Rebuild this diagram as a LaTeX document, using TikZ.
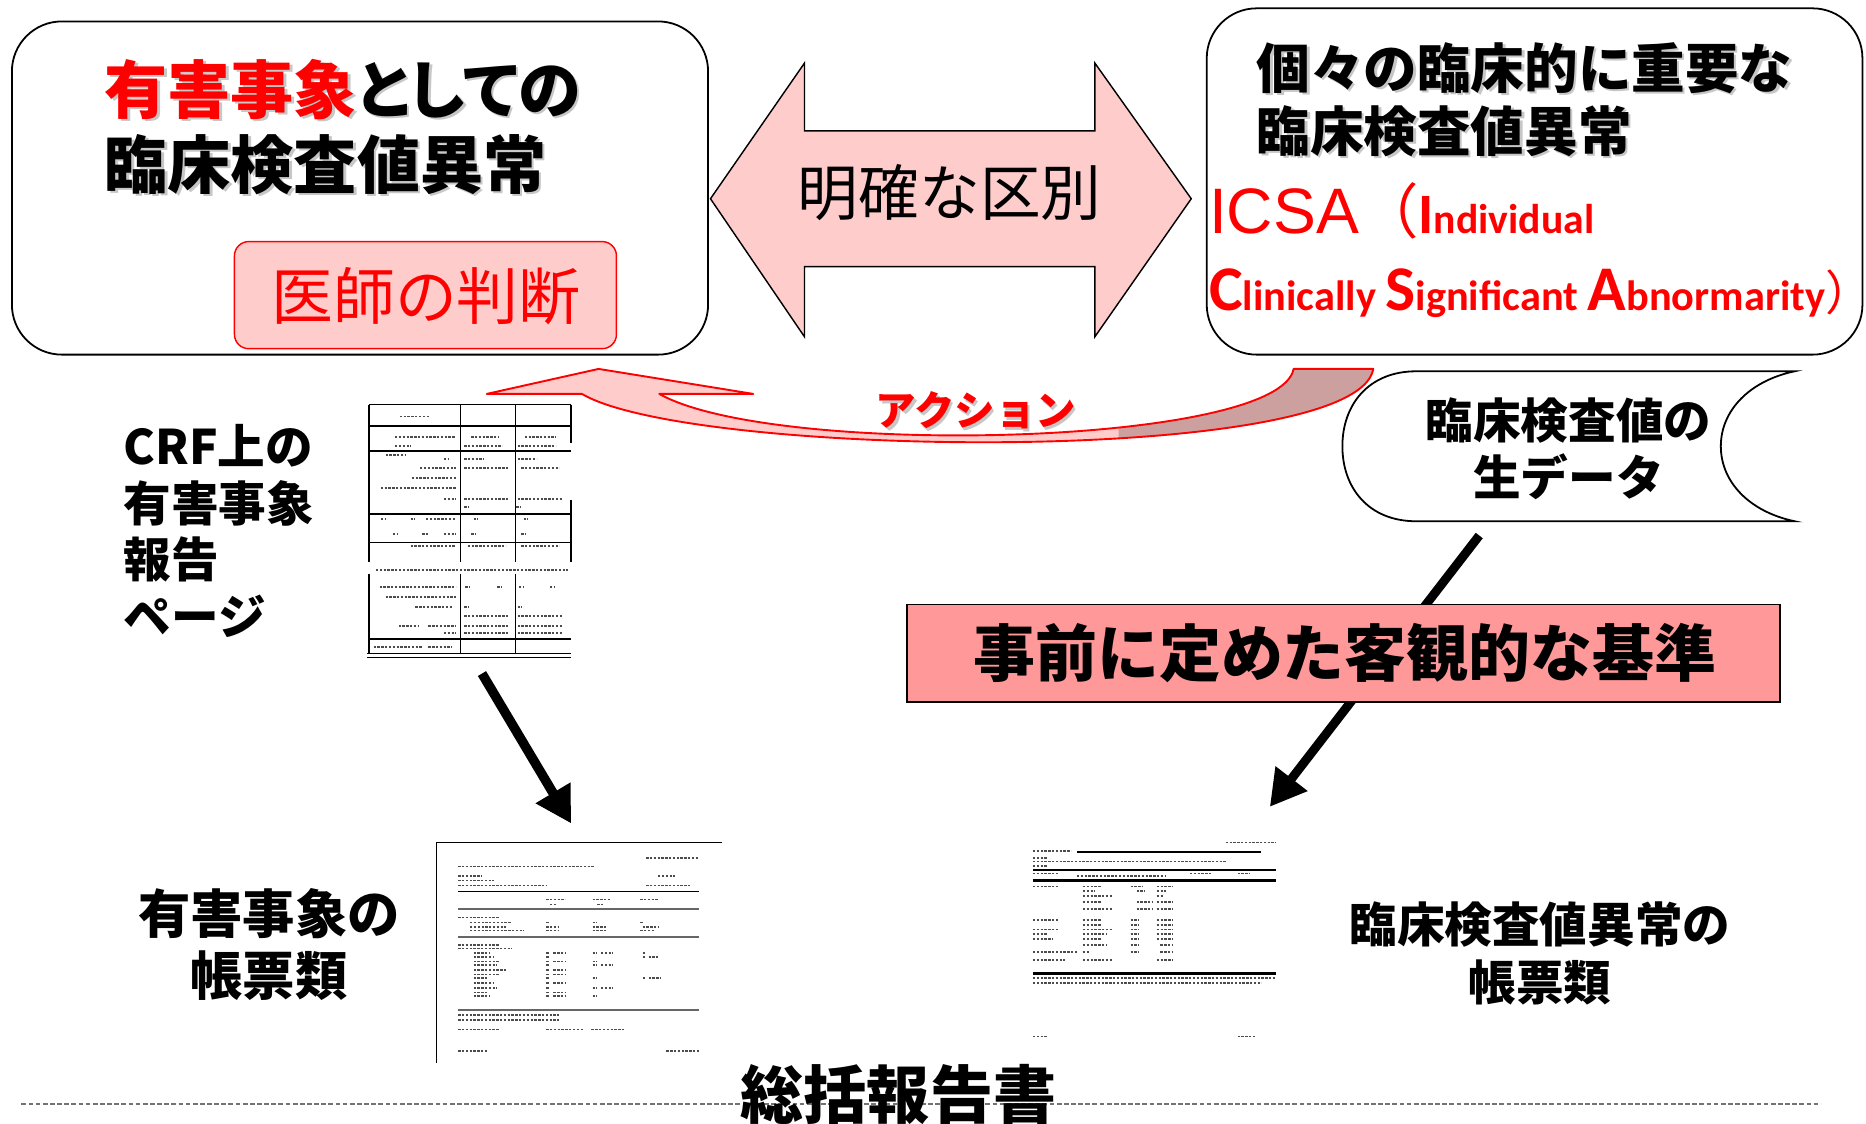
\documentclass[tikz,border=0pt]{standalone}
\usepackage{fontspec}
\usetikzlibrary{arrows.meta}
\setmainfont{Noto Sans CJK JP}
\newfontfamily\jp{Noto Sans CJK JP}
\newfontfamily\jpp{Noto Sans CJK JP}[RawFeature=+palt]
\newfontfamily\arl{Liberation Sans}
\newfontfamily\calf{Carlito}
\definecolor{pinkA}{HTML}{FFCCCC}
\definecolor{pinkB}{HTML}{FF9999}
\definecolor{darkband}{HTML}{CDA0A0}
\newcommand{\fsz}[1]{\fontsize{#1}{#1}\selectfont}
\tikzset{
  roundbox/.style={draw=black, line width=1.5pt, fill=white, rounded corners=42pt, inner sep=0pt},
  txt/.style={inner sep=0pt, outer sep=0pt},
  shd/.style={inner sep=0pt, outer sep=0pt, text=black!22},
  bigarrow/.style={line width=8pt, -{Triangle[length=30pt,width=32pt]}},
  tbl/.style={line width=1.3pt, black},
  scrib/.style={line width=1.6pt, black!70, dash pattern=on 2pt off 1.2pt},
}
\begin{document}
\begin{tikzpicture}[x=1pt,y=-1pt]
\useasboundingbox (0,0) rectangle (1568,944);
\fill[white] (0,0) rectangle (1568,944);

% ---------- left box ----------
\node[roundbox, minimum width=585pt, minimum height=280pt] (lbox) at (302.5,158) {};
\node[shd, anchor=west] (lt1s) at (90,77) {\bfseries\fsz{53}有害事象\jpp としての};
\node[txt, anchor=west] (lt1) at (88,75) {\bfseries\fsz{53}\textcolor{red}{有害事象}\jpp としての};
\node[shd, anchor=west] (lt2s) at (90,140) {\bfseries\fsz{53}臨床検査値異常};
\node[txt, anchor=west] (lt2) at (88,138) {\bfseries\fsz{53}臨床検査値異常};
\node[draw=red, fill=pinkA, line width=1.2pt, rounded corners=12pt, minimum width=321pt, minimum height=90pt, inner sep=0pt] (judge) at (357.5,248) {};
\node[txt, text=red] (judget) at (358,249) {\fsz{52}医師の判断};

% ---------- double arrow ----------
\path[fill=pinkA, draw=black, line width=1.2pt] (597,167) -- (676,53) -- (676,110) -- (920,110) -- (920,53) -- (1001,167) -- (920,283) -- (920,224) -- (676,224) -- (676,283) -- cycle;
\node[txt] (dist) at (798,162) {\fsz{51}明確な区別};

% ---------- right box ----------
\node[roundbox, minimum width=551pt, minimum height=291pt] (rbox) at (1289.5,152.5) {};
\node[shd, anchor=west] (rt1s) at (1058,59) {\bfseries\fsz{45}個々の臨床的に重要な};
\node[txt, anchor=west] (rt1) at (1056,57) {\bfseries\fsz{45}個々の臨床的に重要な};
\node[shd, anchor=west] (rt2s) at (1058,112) {\bfseries\fsz{45}臨床検査値異常};
\node[txt, anchor=west] (rt2) at (1056,110) {\bfseries\fsz{45}臨床検査値異常};
\node[txt, anchor=base west, text=red] (icsa1) at (1016,196) {{\arl\fsz{54}ICSA}{\jp\fsz{50}（}{\calf\bfseries\fsz{48}I}{\calf\bfseries\fsz{35}ndividual}};
\node[txt, anchor=base west, text=red] (icsa2) at (1016,261) {\calf\bfseries{\fsz{53.5}C}{\fsz{35.6}linically }{\fsz{53.5}S}{\fsz{35.6}ignificant }{\fsz{53.5}A}{\fsz{35.6}bnormarity}{\jp\mdseries\fsz{40}\makebox[14pt][l]{）}}};

% ---------- raw data scroll ----------
\path[draw=black, fill=white, line width=1.5pt] (1190,312) -- (1508,312) .. controls (1470,320) and (1446,345) .. (1446,375) .. controls (1446,405) and (1470,430) .. (1508,438) -- (1190,438) .. controls (1150,438) and (1128,410) .. (1128,375) .. controls (1128,340) and (1150,312) .. (1190,312) -- cycle;
\node[txt, align=center, font=\bfseries\fontsize{40}{48}\selectfont] (raw) at (1318,377) {臨床検査値の\\生データ};

% ---------- action curved arrow ----------
\path[fill=pinkA] (489,331) .. controls (580,385) and (1140,392) .. (1154,310) -- (1087,310) .. controls (1075,375) and (650,385) .. (554,331) -- (633,331) -- (503,310) -- (409,331) -- cycle;
\begin{scope}
\clip (940,290) rectangle (1170,400);
\fill[darkband] (489,331) .. controls (580,385) and (1140,392) .. (1154,310) -- (1087,310) .. controls (1075,375) and (650,385) .. (554,331) -- (633,331) -- (503,310) -- (409,331) -- cycle;
\end{scope}
\draw[red, line width=1.6pt, line join=round] (489,331) .. controls (580,385) and (1140,392) .. (1154,310) -- (1087,310) .. controls (1075,375) and (650,385) .. (554,331) -- (633,331) -- (503,310) -- (409,331) -- cycle;
\node[shd] (acts) at (822,347) {\bfseries\fsz{34}アクション};
\node[txt, text=red] (act) at (820,345) {\bfseries\fsz{34}アクション};

% ---------- CRF page ----------
\node[txt, anchor=west, align=left, font=\bfseries\fontsize{40}{47.5}\selectfont] (crflbl) at (104,446) {CRF上の\\有害事象\\報告\\ページ};
\node[txt, minimum width=170pt, minimum height=212pt] (crf) at (395,446) {};
\draw[tbl] (310,340) -- (480,340);
\foreach \yy in {358,379,432,456,537} \draw[tbl] (310,\yy) -- (480,\yy);
\draw[tbl] (308,549) -- (480,549);
\draw[tbl] (308,552.5) -- (480,552.5);
\foreach \xx in {310,387,433} \draw[tbl] (\xx,340) -- (\xx,472) (\xx,482) -- (\xx,549);
\draw[tbl] (480,340) -- (480,372) (480,420) -- (480,472);
\foreach \a/\b/\c in {336/361/350, 332/383/367, 396/419/367, 441/467/367, 332/345/375, 390/422/375, 435/467/375, 324/341/382, 373/377/386, 390/407/386, 435/451/386, 353/383/393, 390/428/393, 438/470/393, 346/383/402, 320/383/410, 373/383/419, 390/428/419, 435/473/419, 390/394/426, 434/438/426, 320/324/436, 345/349/436, 358/383/436, 398/402/436, 440/444/436, 330/334/449, 355/360/449, 373/383/449, 396/400/449, 438/442/449, 345/383/459, 393/425/459, 438/470/459, 316/477/479, 319/383/493, 391/395/493, 418/422/493, 436/440/493, 462/466/493, 324/383/502, 349/380/510, 390/394/510, 435/439/510, 390/428/518, 435/473/518, 335/352/526, 360/383/526, 390/428/526, 435/473/526, 373/383/532, 390/428/532, 435/473/532, 314/355/544, 360/380/544}
  \draw[scrib] (\a,\c) -- (\b,\c);

% ---------- arrow 1 ----------
\coordinate (a1s) at (405,566);
\coordinate (a1e) at (480,692);
\draw[bigarrow] (a1s) -- (a1e);

% ---------- AE tables ----------
\node[txt, minimum width=240pt, minimum height=185pt] (aedoc) at (487,800) {};
\draw[line width=1.2pt] (607,708) -- (367,708) -- (367,893);
\draw[line width=1pt] (385,749) -- (587,749);
\draw[line width=1.8pt, black!60] (385,764) -- (587,764) (385,787) -- (587,787) (385,849) -- (587,849);
\foreach \a/\b/\c in {543/587/721, 385/500/728, 385/405/736, 553/567/736, 385/415/740, 385/460/744, 543/580/744, 459/475/756, 498/513/756, 538/553/756, 462/467/760, 502/507/760, 385/420/771, 395/430/775, 459/462/775, 498/502/775, 538/541/775, 395/425/779, 459/470/779, 498/510/779, 540/553/779, 395/440/782, 459/470/782, 498/510/782, 538/550/782, 385/420/794, 385/430/797, 398/412/801, 459/462/801, 465/475/801, 498/502/801, 505/515/801, 540/543/801, 398/415/804, 459/462/804, 540/543/804, 545/553/804, 398/420/808, 459/462/808, 465/475/808, 498/502/808, 398/418/811, 459/462/811, 498/502/811, 505/515/811, 398/425/815, 459/462/815, 465/475/815, 398/420/819, 459/462/819, 465/475/819, 398/410/822, 459/462/822, 498/502/822, 540/543/822, 545/555/822, 398/415/826, 459/462/826, 465/475/826, 398/418/830, 459/462/830, 498/502/830, 505/515/830, 398/410/834, 459/462/834, 465/475/834, 398/412/837, 459/462/837, 465/475/837, 498/502/837, 385/470/853, 385/470/857, 385/420/865, 459/490/865, 497/525/865, 385/410/883, 560/587/883}
  \draw[scrib, line width=1.3pt] (\a,\c) -- (\b,\c);
\node[txt, align=center, font=\bfseries\fontsize{44}{52}\selectfont] (aelbl) at (226,794) {有害事象の\\帳票類};

% ---------- arrow 2 and criterion ----------
\coordinate (a2s) at (1243,450);
\coordinate (a2e) at (1067,678);
\draw[bigarrow, line width=7.5pt] (a2s) -- (a2e);
\node[draw=black, fill=pinkB, line width=1.5pt, minimum width=734pt, minimum height=82pt, inner sep=0pt] (crit) at (1129,549) {};
\node[txt] (critt) at (1130,549) {\bfseries\fsz{52}事前に定めた客観的な基準};

% ---------- lab tables ----------
\node[txt, minimum width=204pt, minimum height=167pt] (labdoc) at (970,788) {};
\draw[line width=2.2pt] (868,731) -- (1072,731) (868,740) -- (1072,740) (868,818) -- (1072,818);
\draw[line width=2.2pt] (905,716) -- (1060,716);
\foreach \a/\b/\c in {1030/1072/708, 868/900/715, 868/880/721, 868/1030/724, 868/880/728, 868/890/734, 1000/1018/734, 1040/1050/734, 905/980/736, 868/890/745, 910/925/745, 950/960/745, 972/985/745, 910/920/749, 955/962/749, 972/980/749, 910/935/753, 972/978/753, 910/925/758, 955/968/758, 972/985/758, 910/935/764, 955/968/764, 972/985/764, 868/890/773, 910/925/773, 950/957/773, 972/985/773, 910/925/777, 950/957/777, 972/985/777, 868/890/781, 910/935/781, 950/957/781, 972/985/781, 868/880/785, 910/930/785, 950/957/785, 972/985/785, 868/885/789, 910/925/789, 950/957/789, 972/985/789, 910/930/794, 950/957/794, 975/985/794, 868/905/800, 910/915/800, 950/957/800, 975/985/800, 868/895/807, 910/935/807, 972/985/807, 868/1072/822, 868/1060/826, 868/880/871, 1040/1055/871}
  \draw[scrib, line width=1.5pt] (\a,\c) -- (\b,\c);
\node[txt, align=center, font=\bfseries\fontsize{40}{49}\selectfont] (lablbl) at (1294,801) {臨床検査値異常の\\帳票類};

% ---------- bottom ----------
\coordinate (dl1) at (18,928);
\coordinate (dl2) at (1530,928);
\draw[black!55, line width=1.6pt, dash pattern=on 4pt off 2pt] (dl1) -- (dl2);
\node[txt] (final) at (755,920) {\bfseries\fsz{53}総括報告書};
\end{tikzpicture}
\end{document}
